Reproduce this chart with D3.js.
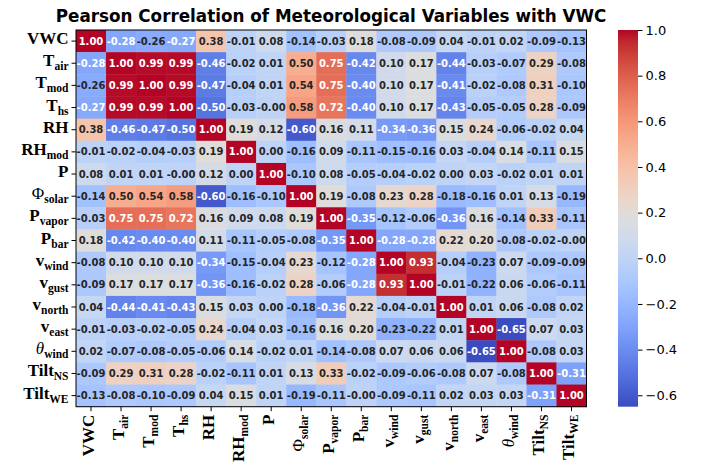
<!DOCTYPE html>
<html>
<head>
<meta charset="utf-8">
<script src="https://cdn.jsdelivr.net/npm/d3@7"></script>
<style>
  body { margin: 0; background: #fff; }
</style>
</head>
<body>
<div id="plot"></div>
<script>
// chart size
const width = 713,
    height = 462;

// variable names: main symbol + subscript
const varMain = ["VWC", "T", "T", "T", "RH", "RH", "P", "Φ", "P", "P", "v", "v", "v", "v", "θ", "Tilt", "Tilt"];
const varSub  = ["", "air", "mod", "hs", "", "mod", "", "solar", "vapor", "bar", "wind", "gust", "north", "east", "wind", "NS", "WE"];

// correlation matrix, one row per variable
const corr = [
  [1.00, -0.28, -0.26, -0.27, 0.38, -0.01, 0.08, -0.14, -0.03, 0.18, -0.08, -0.09, 0.04, -0.01, 0.02, -0.09, -0.13],
  [-0.28, 1.00, 0.99, 0.99, -0.46, -0.02, 0.01, 0.50, 0.75, -0.42, 0.10, 0.17, -0.44, -0.03, -0.07, 0.29, -0.08],
  [-0.26, 0.99, 1.00, 0.99, -0.47, -0.04, 0.01, 0.54, 0.75, -0.40, 0.10, 0.17, -0.41, -0.02, -0.08, 0.31, -0.10],
  [-0.27, 0.99, 0.99, 1.00, -0.50, -0.03, -0, 0.58, 0.72, -0.40, 0.10, 0.17, -0.43, -0.05, -0.05, 0.28, -0.09],
  [0.38, -0.46, -0.47, -0.50, 1.00, 0.19, 0.12, -0.60, 0.16, 0.11, -0.34, -0.36, 0.15, 0.24, -0.06, -0.02, 0.04],
  [-0.01, -0.02, -0.04, -0.03, 0.19, 1.00, 0.00, -0.16, 0.09, -0.11, -0.15, -0.16, 0.03, -0.04, 0.14, -0.11, 0.15],
  [0.08, 0.01, 0.01, -0, 0.12, 0.00, 1.00, -0.10, 0.08, -0.05, -0.04, -0.02, 0.00, 0.03, -0.02, 0.01, 0.01],
  [-0.14, 0.50, 0.54, 0.58, -0.60, -0.16, -0.10, 1.00, 0.19, -0.08, 0.23, 0.28, -0.18, -0.16, 0.01, 0.13, -0.19],
  [-0.03, 0.75, 0.75, 0.72, 0.16, 0.09, 0.08, 0.19, 1.00, -0.35, -0.12, -0.06, -0.36, 0.16, -0.14, 0.33, -0.11],
  [0.18, -0.42, -0.40, -0.40, 0.11, -0.11, -0.05, -0.08, -0.35, 1.00, -0.28, -0.28, 0.22, 0.20, -0.08, -0.02, -0],
  [-0.08, 0.10, 0.10, 0.10, -0.34, -0.15, -0.04, 0.23, -0.12, -0.28, 1.00, 0.93, -0.04, -0.23, 0.07, -0.09, -0.09],
  [-0.09, 0.17, 0.17, 0.17, -0.36, -0.16, -0.02, 0.28, -0.06, -0.28, 0.93, 1.00, -0.01, -0.22, 0.06, -0.06, -0.11],
  [0.04, -0.44, -0.41, -0.43, 0.15, 0.03, 0.00, -0.18, -0.36, 0.22, -0.04, -0.01, 1.00, 0.01, 0.06, -0.08, 0.02],
  [-0.01, -0.03, -0.02, -0.05, 0.24, -0.04, 0.03, -0.16, 0.16, 0.20, -0.23, -0.22, 0.01, 1.00, -0.65, 0.07, 0.03],
  [0.02, -0.07, -0.08, -0.05, -0.06, 0.14, -0.02, 0.01, -0.14, -0.08, 0.07, 0.06, 0.06, -0.65, 1.00, -0.08, 0.03],
  [-0.09, 0.29, 0.31, 0.28, -0.02, -0.11, 0.01, 0.13, 0.33, -0.02, -0.09, -0.06, -0.08, 0.07, -0.08, 1.00, -0.31],
  [-0.13, -0.08, -0.10, -0.09, 0.04, 0.15, 0.01, -0.19, -0.11, -0, -0.09, -0.11, 0.02, 0.03, 0.03, -0.31, 1.00]
];

const cbarTicks = [-0.6, -0.4, -0.2, 0.0, 0.2, 0.4, 0.6, 0.8, 1.0];

// matplotlib "coolwarm" (Moreland) sampled at 33 points
const coolwarm = [
  "rgb(59,76,192)","rgb(68,90,204)","rgb(77,104,215)","rgb(87,117,225)","rgb(98,130,234)",
  "rgb(108,142,241)","rgb(119,154,247)","rgb(130,165,251)","rgb(141,176,254)","rgb(152,185,255)",
  "rgb(163,194,255)","rgb(174,201,253)","rgb(184,208,249)","rgb(194,213,244)","rgb(204,217,238)",
  "rgb(213,219,230)","rgb(221,221,221)","rgb(229,216,209)","rgb(236,211,197)","rgb(241,204,184)",
  "rgb(245,196,172)","rgb(247,187,160)","rgb(247,177,148)","rgb(247,166,135)","rgb(244,154,123)",
  "rgb(241,141,111)","rgb(236,127,99)","rgb(229,112,89)","rgb(222,96,77)","rgb(213,80,66)",
  "rgb(203,62,56)","rgb(192,40,47)","rgb(180,4,38)"
];

const n = varMain.length;
const ids = d3.range(n);
const vmin = d3.min(corr.flat()), vmax = 1.0;

const color = d3.scaleSequential(d3.piecewise(d3.interpolateRgb, coolwarm))
  .domain([vmin, vmax]);

// seaborn picks white or dark annotation text from the cell luminance
function textColor(c) {
  const rgb = d3.rgb(c);
  const lin = v => { v /= 255; return v <= 0.03928 ? v / 12.92 : Math.pow((v + 0.055) / 1.055, 2.4); };
  const lum = 0.2126 * lin(rgb.r) + 0.7152 * lin(rgb.g) + 0.0722 * lin(rgb.b);
  return lum > 0.408 ? "#262626" : "#ffffff";
}

function fmt(v) {
  const neg = v < 0 || Object.is(v, -0);
  return (neg ? "-" : "") + Math.abs(v).toFixed(2);
}

const svg = d3.select("#plot")
  .append("svg")
    .attr("width", width)
    .attr("height", height)
    .style("font-family", "'DejaVu Sans', sans-serif");

const x = d3.scaleBand().domain(ids).range([76, 586.5]);
const y = d3.scaleBand().domain(ids).range([30, 406.7]);

// cells
const cells = svg.append("g")
  .selectAll("g")
  .data(corr.flatMap((row, i) => row.map((v, j) => ({i, j, v}))))
  .join("g");

cells.append("rect")
  .attr("x", d => x(d.j))
  .attr("y", d => y(d.i))
  .attr("width", x.bandwidth() + 0.4)
  .attr("height", y.bandwidth() + 0.4)
  .attr("fill", d => color(d.v));

cells.append("text")
  .attr("x", d => x(d.j) + x.bandwidth() / 2)
  .attr("y", d => y(d.i) + y.bandwidth() / 2)
  .attr("dy", "0.36em")
  .attr("text-anchor", "middle")
  .style("font-size", "10px")
  .style("font-weight", "bold")
  .attr("fill", d => textColor(color(d.v)))
  .text(d => fmt(d.v));

// frame
svg.append("rect")
  .attr("x", 76).attr("y", 30)
  .attr("width", 510.5).attr("height", 376.7)
  .attr("fill", "none").attr("stroke", "#000").attr("stroke-width", 1);

// write a label with subscript into a text node
function writeLabel(sel, i) {
  const main = varMain[i];
  const greek = main === "Φ" || main === "θ";
  sel.append("tspan")
    .style("font-size", "17px")
    .style("font-weight", greek ? "normal" : "bold")
    .style("font-style", main === "θ" ? "italic" : "normal")
    .text(main);
  if (varSub[i]) {
    sel.append("tspan")
      .attr("dy", 4)
      .style("font-size", "11.5px")
      .style("font-weight", "bold")
      .text(varSub[i]);
  }
}

// y axis
const yAxis = svg.append("g")
  .attr("transform", "translate(76,0)")
  .call(d3.axisLeft(y).tickSize(4.5).tickPadding(3).tickFormat(""));
yAxis.select(".domain").remove();
yAxis.selectAll(".tick text").each(function(d) {
  const t = d3.select(this)
    .attr("dy", "0.3em")
    .style("font-family", "'Liberation Serif', 'DejaVu Serif', serif")
    .attr("fill", "#000");
  writeLabel(t, d);
});

// x axis
const xAxis = svg.append("g")
  .attr("transform", "translate(0,406.7)")
  .call(d3.axisBottom(x).tickSize(4.5).tickPadding(3).tickFormat(""));
xAxis.select(".domain").remove();
xAxis.selectAll(".tick text").each(function(d) {
  const t = d3.select(this)
    .attr("transform", "rotate(-90)")
    .attr("x", -8)
    .attr("y", 0)
    .attr("dy", "0.3em")
    .attr("text-anchor", "end")
    .style("font-family", "'Liberation Serif', 'DejaVu Serif', serif")
    .attr("fill", "#000");
  writeLabel(t, d);
});

// title
svg.append("text")
  .attr("x", 331)
  .attr("y", 22)
  .attr("text-anchor", "middle")
  .style("font-size", "16.8px")
  .style("font-weight", "bold")
  .text("Pearson Correlation of Meteorological Variables with VWC");

// colorbar
const cb = {x: 618, w: 20};
const cy = d3.scaleLinear().domain([vmin, vmax]).range([406.7, 30]);

const grad = svg.append("defs").append("linearGradient")
  .attr("id", "cbgrad")
  .attr("x1", 0).attr("y1", 1).attr("x2", 0).attr("y2", 0);
grad.selectAll("stop")
  .data(d3.range(0, 1.0001, 1 / 64))
  .join("stop")
    .attr("offset", d => d)
    .attr("stop-color", d => color(vmin + d * (vmax - vmin)));

svg.append("rect")
  .attr("x", cb.x).attr("y", 30)
  .attr("width", cb.w).attr("height", 376.7)
  .attr("fill", "url(#cbgrad)");

const cAxis = svg.append("g")
  .attr("transform", `translate(${cb.x + cb.w},0)`)
  .call(d3.axisRight(cy).tickValues(cbarTicks).tickSize(4.5).tickPadding(3).tickFormat(d3.format(".1f")));
cAxis.select(".domain").remove();
cAxis.selectAll("text")
  .style("font-size", "13px")
  .style("font-family", "'DejaVu Sans', sans-serif")
  .attr("fill", "#000");
</script>
</body>
</html>
